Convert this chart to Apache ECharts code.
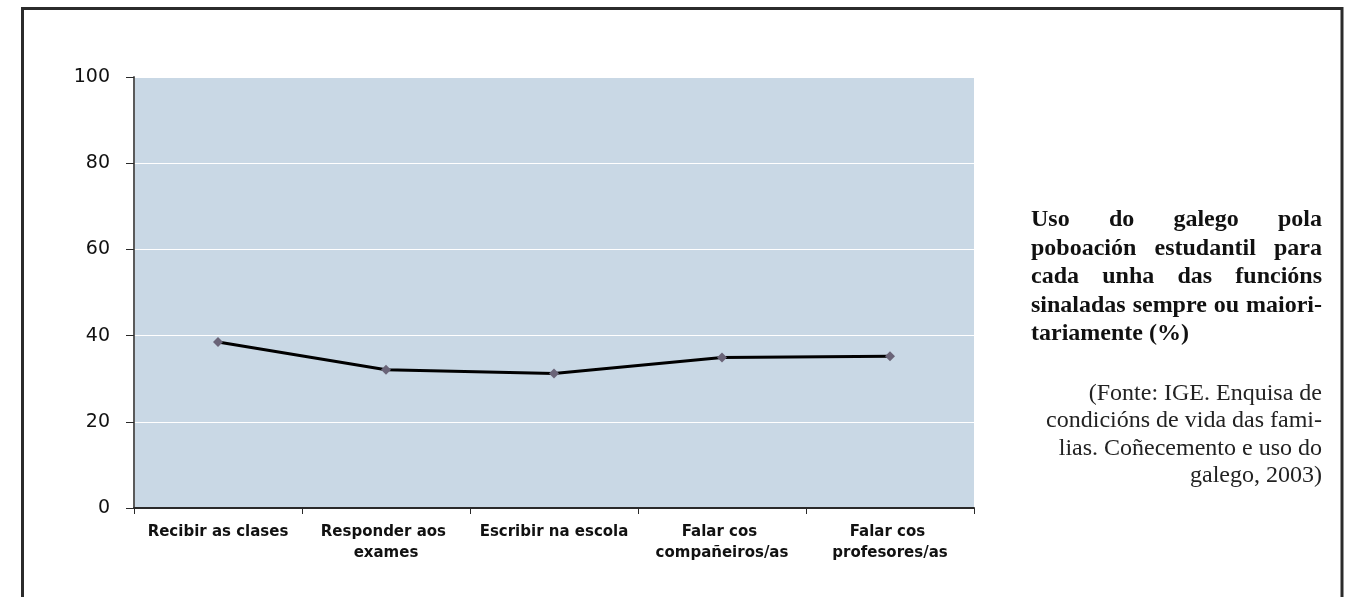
<!DOCTYPE html>
<html>
<head>
<meta charset="utf-8">
<script src="https://cdn.jsdelivr.net/npm/echarts@6/dist/echarts.min.js"></script>
<style>
html,body{margin:0;padding:0;background:#fff;}
#chart{width:1347px;height:597px;}
</style>
</head>
<body>
<div id="chart"></div>
<script>
const categories = ['Recibir as clases', 'Responder aos exames', 'Escribir na escola', 'Falar cos compañeiros/as', 'Falar cos profesores/as'];
const values = [38.5, 32.1, 31.2, 34.9, 35.2];
const yMin = 0, yMax = 100, yStep = 20;
const titleLines = ['Uso do galego pola', 'poboación estudantil para', 'cada unha das funcións', 'sinaladas sempre ou maiori-', 'tariamente (%)'];
const sourceLines = ['(Fonte: IGE. Enquisa de', 'condicións de vida das fami-', 'lias. Coñecemento e uso do', 'galego, 2003)'];

const chart = echarts.init(document.getElementById('chart'), null, {renderer: 'canvas'});

// Build justified title text
const ctx = document.createElement('canvas').getContext('2d');
const titleFont = 'bold 24px "Liberation Serif"';
const srcFont = '24px "Liberation Serif"';
ctx.font = titleFont;
const textLeft = 1031, textRight = 1322, textW = textRight - textLeft;
const graphics = [];
graphics.push({
  type: 'rect', silent: true, z: 100,
  shape: {x: 22.5, y: 8.5, width: 1319.5, height: 700},
  style: {fill: 'none', stroke: '#2b2b2b', lineWidth: 3}
});
titleLines.forEach((line, i) => {
  const baseY = 208 + i * 28.5;
  const words = line.split(' ');
  if (i === titleLines.length - 1 || words.length < 2) {
    graphics.push({type: 'text', silent: true, x: textLeft, y: baseY,
      style: {text: line, font: titleFont, fill: '#111', align: 'left', verticalAlign: 'alphabetic'}});
  } else {
    const widths = words.map(w => ctx.measureText(w).width);
    const sum = widths.reduce((a, b) => a + b, 0);
    const gap = (textW - sum) / (words.length - 1);
    let x = textLeft;
    words.forEach((w, j) => {
      graphics.push({type: 'text', silent: true, x: x, y: baseY,
        style: {text: w, font: titleFont, fill: '#111', align: 'left', verticalAlign: 'alphabetic'}});
      x += widths[j] + gap;
    });
  }
});
sourceLines.forEach((line, i) => {
  const baseY = 382 + i * 27.2;
  graphics.push({type: 'text', silent: true, x: textRight, y: baseY,
    style: {text: line, font: srcFont, fill: '#222', align: 'right', verticalAlign: 'alphabetic'}});
});

chart.setOption({
  animation: false,
  backgroundColor: '#ffffff',
  grid: {left: 134, right: 373, top: 77, bottom: 89, show: true, backgroundColor: '#c9d8e5', borderWidth: 0},
  xAxis: {
    type: 'category',
    data: categories,
    boundaryGap: true,
    axisLine: {show: true, lineStyle: {color: '#2a2a2a', width: 2}},
    axisTick: {show: true, length: 6, alignWithLabel: false, lineStyle: {color: '#2a2a2a', width: 1}},
    axisLabel: {
      interval: 0, margin: 14, color: '#111',
      fontFamily: 'DejaVu Sans', fontWeight: 'bold', fontSize: 15, lineHeight: 21,
      width: 166, overflow: 'break', align: 'center'
    },
    splitLine: {show: false}
  },
  yAxis: {
    type: 'value',
    min: yMin, max: yMax, interval: yStep,
    axisLine: {show: true, lineStyle: {color: '#5a5a5a', width: 2}},
    axisTick: {show: true, length: 8, lineStyle: {color: '#2a2a2a', width: 1}},
    axisLabel: {margin: 24, color: '#111', fontFamily: 'DejaVu Sans', fontSize: 19},
    splitLine: {show: true, lineStyle: {color: '#ffffff', width: 1}}
  },
  series: [{
    type: 'line',
    data: values,
    symbol: 'diamond',
    symbolSize: 10,
    showAllSymbol: true,
    lineStyle: {color: '#000000', width: 3},
    itemStyle: {color: '#6a6478', borderWidth: 0},
    z: 3
  }],
  graphic: graphics
});
</script>
</body>
</html>
